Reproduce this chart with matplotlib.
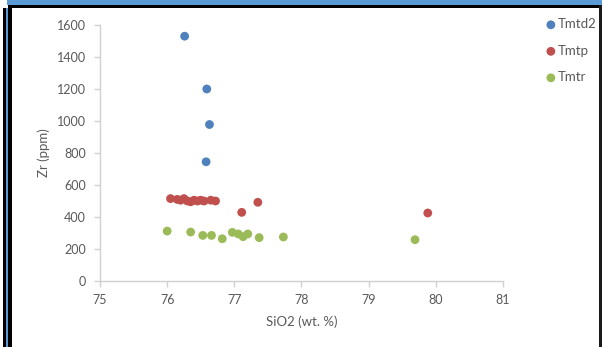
import matplotlib
matplotlib.use("Agg")
import matplotlib.pyplot as plt
from matplotlib.patches import Rectangle

plt.rcParams['font.family'] = ['Lato', 'DejaVu Sans']

# Data
tmtd2_x = [76.26, 76.59, 76.63, 76.58]
tmtd2_y = [1530, 1200, 978, 745]

tmtp_x = [76.05, 76.15, 76.2, 76.25, 76.3, 76.35, 76.4, 76.45, 76.5, 76.55, 76.65, 76.72, 77.11, 77.35, 79.88]
tmtp_y = [515, 510, 505, 515, 500, 495, 505, 500, 505, 500, 505, 500, 429, 492, 425]

tmtr_x = [76.0, 76.35, 76.53, 76.66, 76.82, 76.97, 77.06, 77.13, 77.2, 77.37, 77.73, 79.69]
tmtr_y = [312, 306, 285, 285, 264, 304, 294, 277, 294, 271, 275, 258]

series = [("Tmtd2", tmtd2_x, tmtd2_y, "#4F81BD"),
          ("Tmtp", tmtp_x, tmtp_y, "#C0504D"),
          ("Tmtr", tmtr_x, tmtr_y, "#9BBB59")]

xticks = [75, 76, 77, 78, 79, 80, 81]
yticks = [0, 200, 400, 600, 800, 1000, 1200, 1400, 1600]

fig = plt.figure(figsize=(6.02, 3.47), dpi=100)
W, H = 602, 347

def px_rect(x0, y0, x1, y1, color):
    fig.patches.append(Rectangle((x0 / W, 1 - y1 / H), (x1 - x0) / W, (y1 - y0) / H,
                                 transform=fig.transFigure, facecolor=color,
                                 edgecolor='none', zorder=0))

# frame decorations
px_rect(7, 0, 602, 5, "#5B9BD5")
px_rect(8, 5, 600, 8, "#000000")
px_rect(3, 8, 5.5, 347, "#000000")
px_rect(5.5, 8, 8, 347, "#5B9BD5")
px_rect(8, 5, 11.5, 347, "#000000")
px_rect(599, 5, 602, 347, "#1a1a1a")

ax = fig.add_axes([100 / W, 1 - 281 / H, (503 - 100) / W, (281 - 25) / H])
for name, xs, ys, c in series:
    ax.scatter(xs, ys, s=40, color=c, label=name, edgecolors='none', zorder=3)

ax.set_xlim(75, 81)
ax.set_ylim(0, 1600)
ax.set_xticks(xticks)
ax.set_yticks(yticks)
for s in ['top', 'right']:
    ax.spines[s].set_visible(False)
for s in ['left', 'bottom']:
    ax.spines[s].set_color('#D0D0D0')
    ax.spines[s].set_linewidth(1.0)
ax.tick_params(axis='both', colors='#D0D0D0', labelcolor='#595959', labelsize=9,
               length=4, width=1, direction='out')
ax.tick_params(axis='x', pad=5)
ax.tick_params(axis='y', pad=6)
ax.set_xlabel("SiO2 (wt. %)", color='#595959', fontsize=9.5, labelpad=7)
ax.set_ylabel("Zr (ppm)", color='#595959', fontsize=9.5, labelpad=5)

leg = fig.legend(loc='upper left', bbox_to_anchor=(539 / W, 1 - 13 / H), frameon=False,
                 fontsize=9.5, handletextpad=0.05, labelspacing=1.1, handlelength=1.0,
                 borderaxespad=0, markerscale=1.0)
for t in leg.get_texts():
    t.set_color('#595959')

fig.savefig("out.png", dpi=100, facecolor='white')
